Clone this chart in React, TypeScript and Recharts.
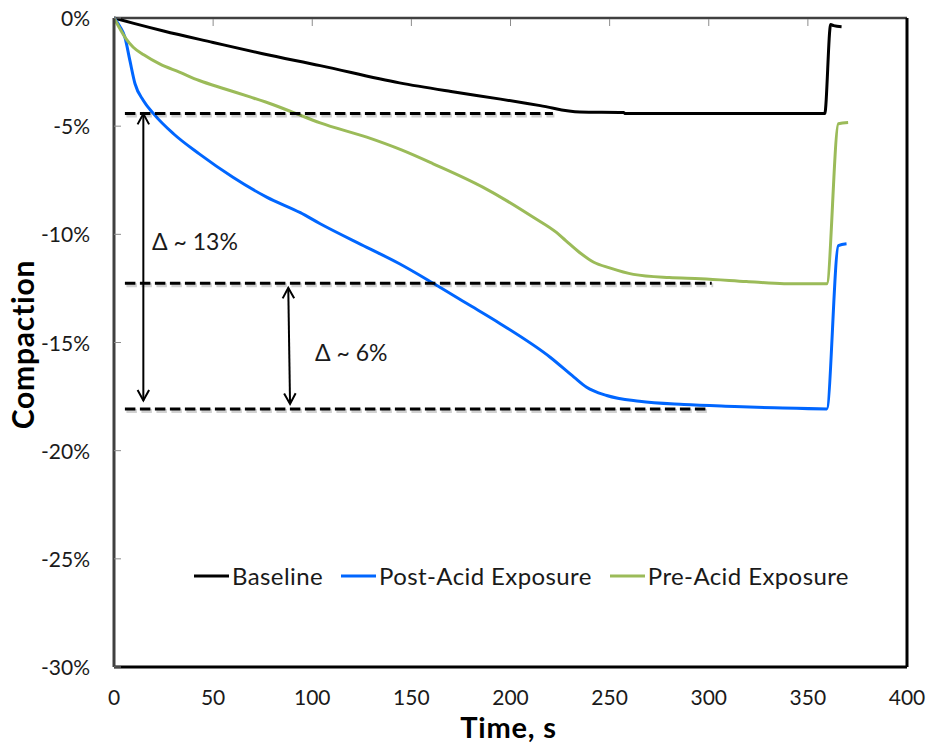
import React from 'react';
import { LineChart, Line, XAxis, YAxis, ReferenceLine, ReferenceDot, Legend, Label } from 'recharts';

const FONT = 'Lato, "Open Sans", sans-serif';
const PLOT_TOP = 18;

const xTicks = [0, 50, 100, 150, 200, 250, 300, 350, 400];
const yTicks = [-30, -25, -20, -15, -10, -5, 0];

// time (s) -> compaction (%)
const baseline = [
  { t: 0, v: 0 }, { t: 10, v: -0.25 }, { t: 25, v: -0.6 }, { t: 50, v: -1.13 },
  { t: 75, v: -1.65 }, { t: 104, v: -2.2 }, { t: 144, v: -3.0 }, { t: 170, v: -3.4 },
  { t: 195, v: -3.75 }, { t: 215, v: -4.05 }, { t: 235, v: -4.35 }, { t: 257, v: -4.37 },
  { t: 258, v: -4.42 }, { t: 358.5, v: -4.42 }, { t: 361.5, v: -0.3 }, { t: 363, v: -0.35 },
  { t: 367, v: -0.4 },
];

const postAcid = [
  { t: 0, v: 0 }, { t: 3, v: -0.4 }, { t: 5.5, v: -0.89 }, { t: 8, v: -1.96 },
  { t: 10.6, v: -3.04 }, { t: 14.8, v: -3.81 }, { t: 20, v: -4.43 }, { t: 30, v: -5.35 },
  { t: 43, v: -6.28 }, { t: 60, v: -7.36 }, { t: 77, v: -8.28 }, { t: 94, v: -9.0 },
  { t: 104, v: -9.51 }, { t: 127.5, v: -10.6 }, { t: 144, v: -11.36 }, { t: 161, v: -12.26 },
  { t: 178, v: -13.2 }, { t: 195, v: -14.14 }, { t: 220, v: -15.68 }, { t: 232, v: -16.6 },
  { t: 238.4, v: -17.07 }, { t: 248.5, v: -17.45 }, { t: 265, v: -17.72 }, { t: 287.5, v: -17.87 },
  { t: 313, v: -17.96 }, { t: 333, v: -18.02 }, { t: 359.5, v: -18.07 }, { t: 365.4, v: -10.52 },
  { t: 369.5, v: -10.44 },
];

const preAcid = [
  { t: 0, v: 0 }, { t: 3, v: -0.5 }, { t: 6, v: -0.95 }, { t: 9.7, v: -1.35 },
  { t: 15, v: -1.7 }, { t: 23, v: -2.12 }, { t: 33, v: -2.5 }, { t: 43, v: -2.89 },
  { t: 56, v: -3.28 }, { t: 69, v: -3.66 }, { t: 80, v: -4.0 }, { t: 90, v: -4.35 },
  { t: 104, v: -4.85 }, { t: 127.5, v: -5.51 }, { t: 145, v: -6.1 }, { t: 161, v: -6.74 },
  { t: 186, v: -7.82 }, { t: 198, v: -8.44 }, { t: 211.5, v: -9.21 }, { t: 223, v: -9.9 },
  { t: 228, v: -10.3 }, { t: 235, v: -10.85 }, { t: 242, v: -11.29 }, { t: 250, v: -11.55 },
  { t: 262, v: -11.85 }, { t: 280, v: -12.0 }, { t: 296, v: -12.05 }, { t: 319, v: -12.18 },
  { t: 338, v: -12.28 }, { t: 359.5, v: -12.29 }, { t: 365.4, v: -4.89 }, { t: 370.3, v: -4.83 },
];

const seriesNames = ['Baseline', 'Post-Acid Exposure', 'Pre-Acid Exposure'];
const seriesColors = ['#000000', '#0066ff', '#9bbb59'];

// dashed guide lines: level (%), start and end time (s)
const guideLevels = [-4.41, -12.26, -18.07];
const guideStarts = [5.5, 5.5, 5.5];
const guideEnds = [221.4, 301.5, 300.5];

// double arrows and their labels
const arrowFrom = [{ t: 14.8, v: -4.43 }, { t: 87.9, v: -12.47 }];
const arrowTo = [{ t: 14.8, v: -17.68 }, { t: 88.8, v: -17.84 }];
const deltaLabels = [
  { t: 19.2, v: -10.29, text: 'Δ ~ 13%' },
  { t: 101.4, v: -15.46, text: 'Δ ~ 6%' },
];

const YTick = ({ x, y, payload }: any) => (
  <g>
    <line x1={x} x2={x + 7} y1={y} y2={y} stroke="#8c8c8c" strokeWidth={1} />
    <text x={x - 24} y={y + 8} textAnchor="end" fontFamily={FONT} fontSize={21} fill="#1a1a1a">
      {payload.value}%
    </text>
  </g>
);

// x ticks: label under the plot, tick mark hanging inside from the top frame
const XTick = ({ x, y, payload }: any) => (
  <g>
    {payload.value > 0 && payload.value < 400 && (
      <line x1={x} x2={x} y1={PLOT_TOP + 1} y2={PLOT_TOP + 8} stroke="#8c8c8c" strokeWidth={1} />
    )}
    <text x={x} y={y + 38} textAnchor="middle" fontFamily={FONT} fontSize={21} fill="#1a1a1a">
      {payload.value}
    </text>
  </g>
);

const head = (x: number, y: number, a: number) => {
  const L = 12;
  const w = 0.5;
  return `M${x - L * Math.cos(a - w)},${y - L * Math.sin(a - w)} L${x},${y} L${x - L * Math.cos(a + w)},${y - L * Math.sin(a + w)}`;
};

const ArrowShape = (p: any) => {
  const { x1, y1, x2, y2 } = p;
  const a = Math.atan2(y2 - y1, x2 - x1);
  return (
    <g stroke="#000" strokeWidth={2} fill="none">
      <line x1={x1} y1={y1} x2={x2} y2={y2} />
      <path d={head(x2, y2, a)} />
      <path d={head(x1, y1, a + Math.PI)} />
    </g>
  );
};

const GuideShape = (p: any) => {
  const { x1, y1, x2, y2 } = p;
  return (
    <g>
      <line x1={x1 + 1.5} y1={y1 + 2} x2={x2 + 1.5} y2={y2 + 2} stroke="#000" strokeOpacity={0.18} strokeWidth={4} strokeDasharray="10.5 4.5" />
      <line x1={x1} y1={y1} x2={x2} y2={y2} stroke="#000" strokeWidth={3} strokeDasharray="10.5 4.5" />
    </g>
  );
};

const renderLegend = () => (
  <div style={{ display: 'flex', alignItems: 'center', fontFamily: FONT, fontSize: 24, letterSpacing: 0.4, color: '#1a1a1a', whiteSpace: 'nowrap' }}>
    {seriesNames.map((name, i) => (
      <div key={name} style={{ display: 'flex', alignItems: 'center', marginRight: 18 }}>
        <svg width={35} height={6} style={{ marginRight: 3 }}>
          <line x1={0} x2={35} y1={3} y2={3} stroke={seriesColors[i]} strokeWidth={3} />
        </svg>
        <span>{name}</span>
      </div>
    ))}
  </div>
);

export default function App() {
  const series = [baseline, postAcid, preAcid];
  return (
    <div style={{ position: 'absolute', left: 0, top: 0, background: '#fff' }}>
      <LineChart width={930} height={744} margin={{ top: PLOT_TOP, right: 23, bottom: 47, left: 0 }}>
        <XAxis
          dataKey="t"
          type="number"
          domain={[0, 400]}
          ticks={xTicks}
          interval={0}
          height={30}
          tickSize={0}
          tickMargin={0}
          tickLine={false}
          axisLine={{ stroke: '#000', strokeWidth: 3 }}
          tick={<XTick />}
        >
          <Label
            content={(p: any) => {
              const vb = p.viewBox;
              return (
                <text x={vb.x + vb.width / 2 - 2} y={vb.y + 71} textAnchor="middle" fontFamily={FONT} fontWeight="bold" fontSize={29} letterSpacing={0.8} fill="#000">
                  Time, s
                </text>
              );
            }}
          />
        </XAxis>
        <YAxis
          type="number"
          domain={[-30, 0]}
          ticks={yTicks}
          interval={0}
          width={114}
          tickSize={0}
          tickMargin={0}
          tickLine={false}
          axisLine={{ stroke: '#404040', strokeWidth: 3 }}
          tick={<YTick />}
        >
          <Label
            content={(p: any) => {
              const vb = p.viewBox;
              const cx = vb.x + 22;
              const cy = vb.y + vb.height / 2 + 2;
              return (
                <text x={cx} y={cy} transform={`rotate(-90, ${cx}, ${cy})`} textAnchor="middle" dominantBaseline="central" fontFamily={FONT} fontWeight="bold" fontSize={30} letterSpacing={0.8} fill="#000">
                  Compaction
                </text>
              );
            }}
          />
        </YAxis>
        <ReferenceLine y={0} stroke="#404040" strokeWidth={2.5} ifOverflow="visible" />
        <ReferenceLine x={400} stroke="#000" strokeWidth={3} ifOverflow="visible" />
        {series.map((d, i) => (
          <Line
            key={seriesNames[i]}
            data={d}
            dataKey="v"
            name={seriesNames[i]}
            type="monotoneX"
            stroke={seriesColors[i]}
            strokeWidth={3}
            dot={false}
            isAnimationActive={false}
          />
        ))}
        {guideLevels.map((lvl, i) => (
          <ReferenceLine
            key={`g${i}`}
            segment={[{ x: guideStarts[i], y: lvl }, { x: guideEnds[i], y: lvl }]}
            shape={<GuideShape />}
          />
        ))}
        {arrowFrom.map((a, i) => (
          <ReferenceLine
            key={`a${i}`}
            segment={[{ x: a.t, y: a.v }, { x: arrowTo[i].t, y: arrowTo[i].v }]}
            shape={<ArrowShape />}
          />
        ))}
        {deltaLabels.map((l) => (
          <ReferenceDot
            key={l.text}
            x={l.t}
            y={l.v}
            r={0}
            shape={(p: any) => (
              <text x={p.cx} y={p.cy} dominantBaseline="central" fontFamily={FONT} fontSize={23} fill="#1a1a1a">
                {l.text}
              </text>
            )}
          />
        ))}
        <Legend
          layout="vertical"
          align="center"
          verticalAlign="middle"
          content={renderLegend}
          wrapperStyle={{ left: 194, top: 561, width: 'auto' }}
        />
      </LineChart>
    </div>
  );
}
